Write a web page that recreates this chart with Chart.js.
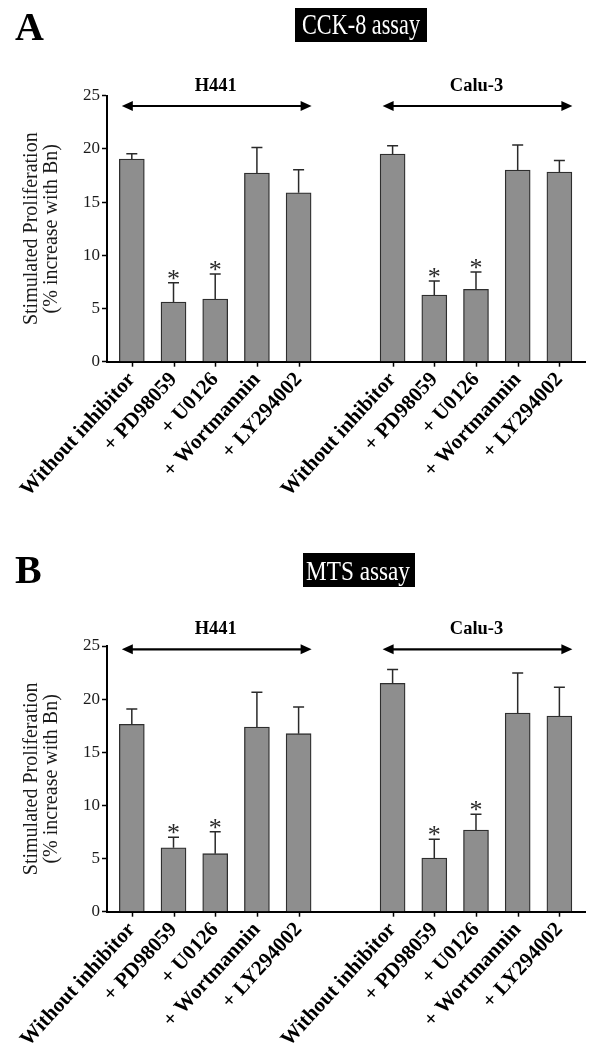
<!DOCTYPE html>
<html><head><meta charset="utf-8">
<script src="https://cdn.jsdelivr.net/npm/chart.js@4.4.1/dist/chart.umd.min.js"></script>
<style>
html,body{margin:0;padding:0;background:#fff;}
#wrap{width:602px;height:1050px;position:relative;overflow:hidden;}
.pane{position:absolute;left:0;width:602px;height:525px;}
</style></head><body>
<div id="wrap">
<div class="pane" style="top:0"><canvas id="cA" width="602" height="525"></canvas></div>
<div class="pane" style="top:525px"><canvas id="cB" width="602" height="525"></canvas></div>
</div>
<script>
// ---- data ----
const categories = ['Without inhibitor', '+ PD98059', '+ U0126', '+ Wortmannin', '+ LY294002'];
const cellLines = ['H441', 'Calu-3'];
const yTicks = [0, 5, 10, 15, 20, 25];
const significant = [false, true, true, false, false];

// Panel A: CCK-8 assay
const cckH441 = [19.05, 5.6, 5.89, 17.73, 15.88];
const cckH441Err = [0.5, 1.82, 2.35, 2.41, 2.17];
const cckCalu3 = [19.52, 6.27, 6.8, 18.01, 17.83];
const cckCalu3Err = [0.78, 1.31, 1.63, 2.35, 1.09];

// Panel B: MTS assay
const mtsH441 = [17.63, 6.02, 5.46, 17.38, 16.75];
const mtsH441Err = [1.44, 0.98, 2.07, 3.26, 2.51];
const mtsCalu3 = [21.49, 5.05, 7.69, 18.7, 18.41];
const mtsCalu3Err = [1.31, 1.76, 1.47, 3.76, 2.7];

// ---- layout constants ----
const GROUP_GAP = 1.254;   // extra empty space between the two cell-line groups (in bar slots)
const SERIF = "'Liberation Serif', 'Times New Roman', serif";

function drawScaledText(ctx, text, x, y, size, weight, targetW, color) {
  ctx.save();
  ctx.font = `${weight} ${size}px ${SERIF}`;
  const w = ctx.measureText(text).width;
  const sx = targetW ? targetW / w : 1;
  ctx.translate(x, y);
  ctx.scale(sx, 1);
  ctx.fillStyle = color;
  ctx.textAlign = 'left';
  ctx.textBaseline = 'alphabetic';
  ctx.fillText(text, 0, 0);
  ctx.restore();
}

function makePanel(canvasId, cfg) {
  const labels = [], vals = [], errs = [], sig = [], pos = [];
  cellLines.forEach((cl, g) => categories.forEach((c, i) => {
    labels.push(c);
    pos.push(i + g * (categories.length + GROUP_GAP));
    vals.push(cfg.values[g][i]);
    errs.push(cfg.errors[g][i]);
    sig.push(significant[i]);
  }));

  const overlay = {
    id: 'overlay',
    afterDatasetsDraw(chart) {
      const ctx = chart.ctx;
      const xs = chart.scales.x, ys = chart.scales.y;
      const area = chart.chartArea;
      ctx.save();
      // x tick marks
      ctx.strokeStyle = '#000';
      ctx.lineWidth = 1.5;
      for (let k = 0; k < pos.length; k++) {
        const x = Math.round(xs.getPixelForValue(pos[k])) + 0.5;
        ctx.beginPath(); ctx.moveTo(x, area.bottom); ctx.lineTo(x, area.bottom + 5); ctx.stroke();
      }
      // error bars (upper only)
      ctx.strokeStyle = '#2a2a2a';
      ctx.lineWidth = 1.5;
      for (let k = 0; k < vals.length; k++) {
        const x = xs.getPixelForValue(pos[k]);
        const y0 = ys.getPixelForValue(vals[k]);
        const y1 = ys.getPixelForValue(vals[k] + errs[k]);
        ctx.beginPath();
        ctx.moveTo(x, y0); ctx.lineTo(x, y1);
        ctx.moveTo(x - 5.5, y1); ctx.lineTo(x + 5.5, y1);
        ctx.stroke();
        if (sig[k]) {
          ctx.fillStyle = '#2a2a2a';
          ctx.font = `26px ${SERIF}`;
          ctx.textAlign = 'center';
          ctx.textBaseline = 'alphabetic';
          ctx.fillText('*', x, y1 + 4);
        }
      }
      // group arrows + labels
      const n = categories.length;
      cellLines.forEach((cl, g) => {
        const xa = xs.getPixelForValue(pos[g * n]) - 10;
        const xb = xs.getPixelForValue(pos[g * n + n - 1]) + 13;
        const y = cfg.arrowY;
        ctx.strokeStyle = '#000';
        ctx.fillStyle = '#000';
        ctx.lineWidth = 2.2;
        ctx.beginPath(); ctx.moveTo(xa + 6, y); ctx.lineTo(xb - 6, y); ctx.stroke();
        ctx.beginPath(); ctx.moveTo(xa, y); ctx.lineTo(xa + 11, y - 5); ctx.lineTo(xa + 11, y + 5); ctx.closePath(); ctx.fill();
        ctx.beginPath(); ctx.moveTo(xb, y); ctx.lineTo(xb - 11, y - 5); ctx.lineTo(xb - 11, y + 5); ctx.closePath(); ctx.fill();
        ctx.font = `bold 18.5px ${SERIF}`;
        ctx.textAlign = 'center';
        ctx.textBaseline = 'alphabetic';
        ctx.fillText(cl, (xa + xb) / 2 - 1, cfg.groupLabelY);
      });
      // panel letter
      ctx.fillStyle = '#000';
      ctx.font = `bold 40px ${SERIF}`;
      ctx.textAlign = 'left';
      ctx.textBaseline = 'alphabetic';
      ctx.fillText(cfg.letter, cfg.letterX, cfg.letterY);
      // title box
      const b = cfg.box;
      ctx.fillStyle = '#000';
      ctx.fillRect(b.x, b.y, b.w, b.h);
      drawScaledText(ctx, cfg.title, b.tx, b.ty, b.size, 'normal', b.tw, '#fff');
      ctx.restore();
    }
  };

  return new Chart(document.getElementById(canvasId), {
    type: 'bar',
    data: {
      datasets: [{
        data: pos.map((x, k) => ({ x: x, y: vals[k] })),
        backgroundColor: '#8e8e8e',
        borderColor: '#2e2e2e',
        borderWidth: 1.3,
        barThickness: 25
      }]
    },
    options: {
      responsive: false,
      animation: false,
      events: [],
      layout: { padding: { top: cfg.top, right: 16.3, left: 0, bottom: 0 } },
      plugins: { legend: { display: false }, tooltip: { enabled: false } },
      scales: {
        x: {
          type: 'linear',
          min: -0.595, max: 10.885,
          offset: false,
          afterBuildTicks: s => { s.ticks = pos.map(v => ({ value: v })); },
          afterFit: s => { s.height = cfg.xAxisHeight; s.paddingLeft = 0; s.paddingRight = 0; },
          ticks: {
            autoSkip: false, minRotation: 47.5, maxRotation: 47.5, color: '#000', padding: 6,
            font: { family: SERIF, size: 21, weight: 'bold' },
            callback: (v, i) => labels[i]
          },
          grid: { display: false, drawOnChartArea: false, drawTicks: false },
          border: { display: true, color: '#000', width: 2 }
        },
        y: {
          min: 0, max: 25,
          afterBuildTicks: s => { s.ticks = yTicks.map(v => ({ value: v })); },
          afterFit: s => { s.width = 107; },
          ticks: { color: '#1a1a1a', padding: 2, font: { family: SERIF, size: 17 } },
          grid: { drawOnChartArea: false, drawTicks: true, tickLength: 5, tickColor: '#000', tickWidth: 1.5 },
          border: { display: true, color: '#000', width: 2 },
          title: {
            display: true,
            text: ['Stimulated Proliferation', '(% increase with Bn)'],
            color: '#1a1a1a',
            font: { family: SERIF, size: 20, lineHeight: 1.0 },
            padding: { top: 21.5, bottom: 0 }
          }
        }
      }
    },
    plugins: [overlay]
  });
}

makePanel('cA', {
  values: [cckH441, cckCalu3], errors: [cckH441Err, cckCalu3Err],
  top: 95.7, xAxisHeight: 163.3, arrowY: 106, groupLabelY: 91,
  letter: 'A', letterX: 15, letterY: 40, title: 'CCK-8 assay',
  box: { x: 295, y: 8, w: 132, h: 34, tx: 302, ty: 34, size: 29, tw: 118 }
});
makePanel('cB', {
  values: [mtsH441, mtsCalu3], errors: [mtsH441Err, mtsCalu3Err],
  top: 121, xAxisHeight: 138.3, arrowY: 124.3, groupLabelY: 109,
  letter: 'B', letterX: 15, letterY: 58, title: 'MTS assay',
  box: { x: 303, y: 28, w: 112, h: 34, tx: 306, ty: 55, size: 28, tw: 104 }
});
</script>
</body></html>
